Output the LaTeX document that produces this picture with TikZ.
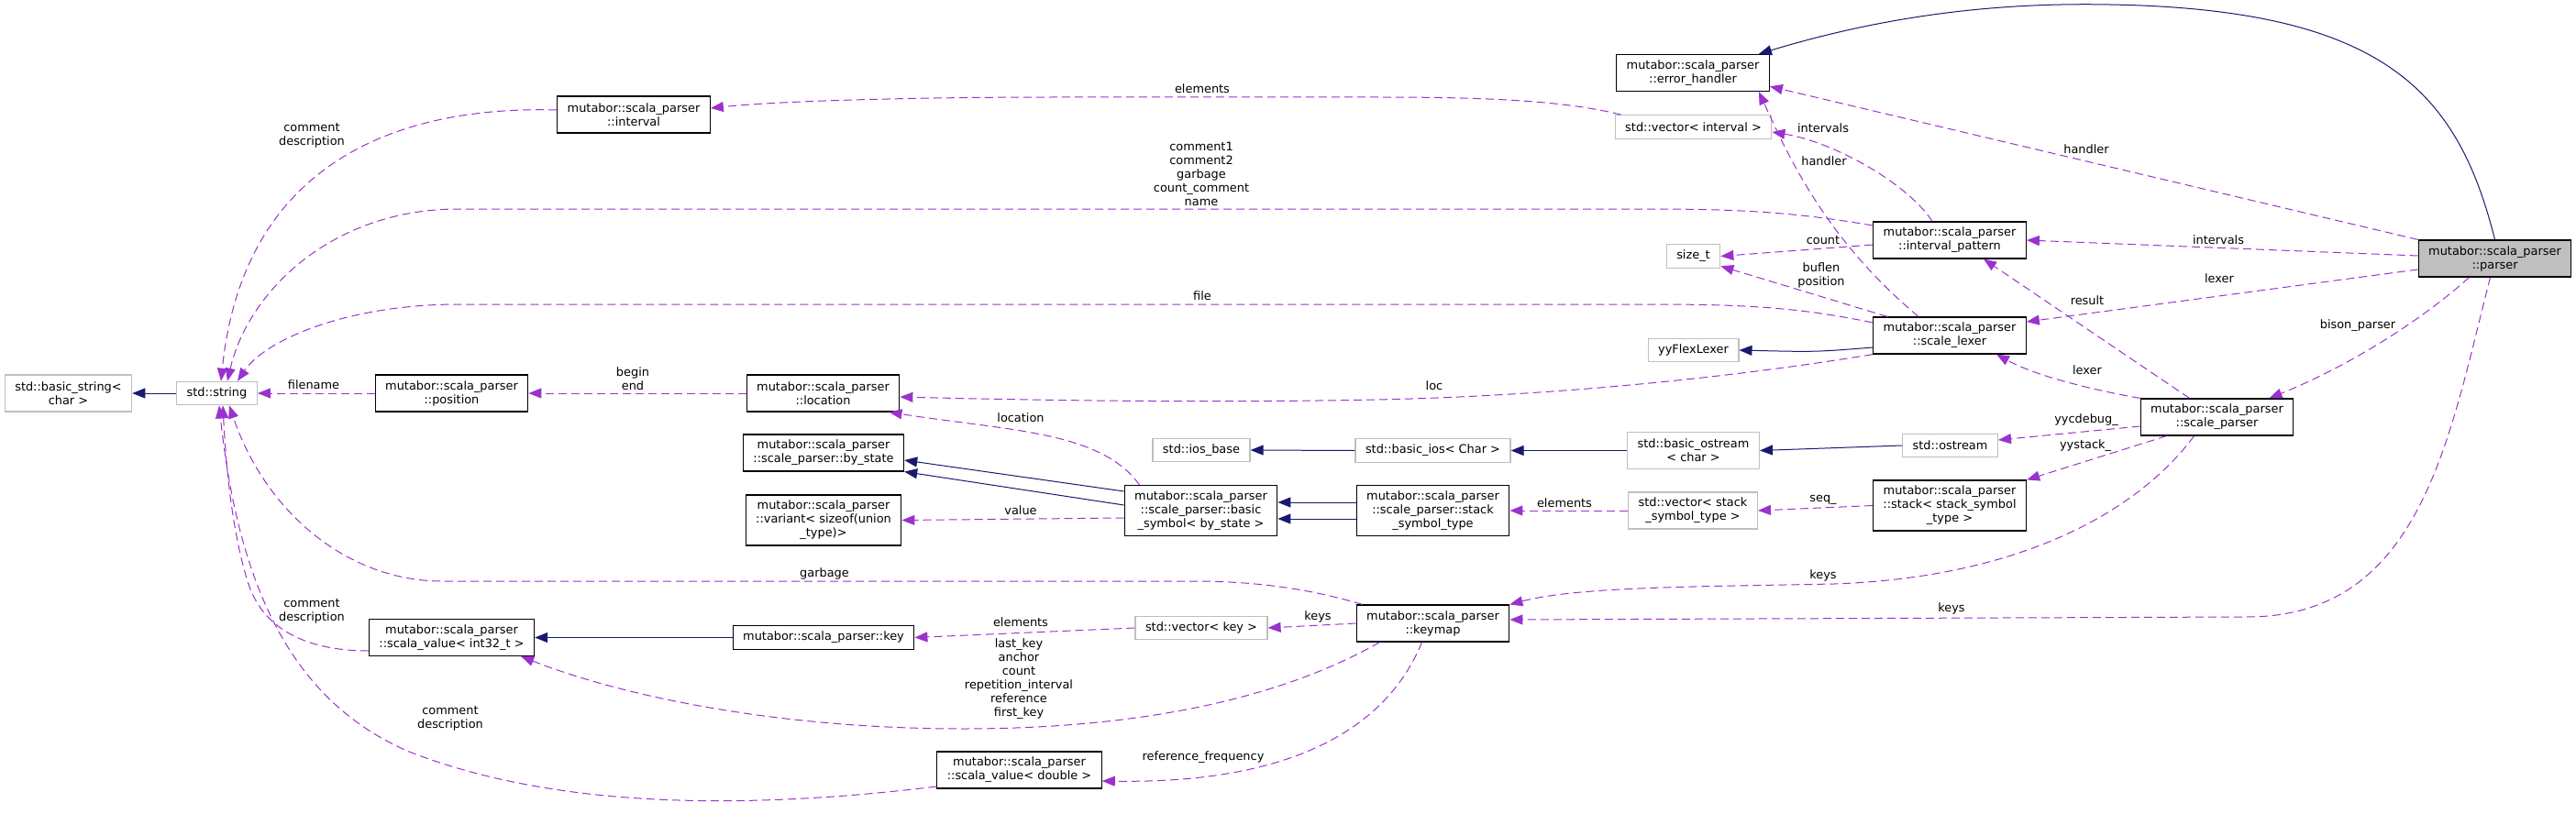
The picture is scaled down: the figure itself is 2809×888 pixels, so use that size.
\documentclass[tikz,border=0pt]{standalone}
\usepackage{fontspec}
\setmainfont{DejaVu Sans}
\usetikzlibrary{arrows.meta}
\definecolor{usecol}{HTML}{9A32CD}
\definecolor{inhcol}{HTML}{191970}
\definecolor{greyline}{HTML}{BFBFBF}
\definecolor{selfill}{HTML}{BFBFBF}
\tikzset{
  box/.style={draw=black, fill=white, line width=1.2pt, align=center,
              font=\fontsize{12.9}{15}\selectfont, inner xsep=11pt, inner ysep=0pt,
              minimum height=25.5pt},
  greybox/.style={box, draw=greyline},
  selbox/.style={box, fill=selfill},
  rows2/.style={minimum height=40pt},
  rows3/.style={minimum height=55pt},
  arinh/.style={-{Triangle[length=14pt, width=11pt]}, line width=1pt, draw=inhcol},
  aruse/.style={-{Triangle[length=14pt, width=11pt]}, line width=1pt, draw=usecol,
                dash pattern=on 9pt off 5pt},
  lbl/.style={font=\fontsize{12.9}{15}\selectfont, align=center, inner sep=0pt}
}

\begin{document}
\begin{tikzpicture}[x=1pt,y=-1pt]
  \useasboundingbox (0,0) rectangle (2809,888);

  % classes, column by column
  \node[greybox, rows2] (basicstr) at (74.5,429) {std::basic\_string<\\char >};
  \node[greybox] (string) at (236.5,429) {std::string};
  \node[box, rows2] (position) at (492.5,429) {mutabor::scala\_parser\\::position};
  \node[box, rows2] (valint) at (492.5,695.5) {mutabor::scala\_parser\\::scala\_value< int32\_t >};
  \node[box, rows2] (interval) at (691,125) {mutabor::scala\_parser\\::interval};
  \node[box, rows2] (location) at (897.5,429) {mutabor::scala\_parser\\::location};
  \node[box, rows2] (bystate) at (898,494) {mutabor::scala\_parser\\::scale\_parser::by\_state};
  \node[box, rows3] (variant) at (898,567.5) {mutabor::scala\_parser\\::variant< sizeof(union\\\_type)>};
  \node[box] (key) at (898,695.5) {mutabor::scala\_parser::key};
  \node[box, rows2] (valdbl) at (1111.5,840) {mutabor::scala\_parser\\::scala\_value< double >};
  \node[greybox] (iosbase) at (1310,491) {std::ios\_base};
  \node[box, rows3] (bsym) at (1309.5,557) {mutabor::scala\_parser\\::scale\_parser::basic\\\_symbol< by\_state >};
  \node[greybox] (veckey) at (1310,685) {std::vector< key >};
  \node[greybox] (basicios) at (1562.5,491.5) {std::basic\_ios< Char >};
  \node[box, rows3] (sst) at (1562.5,557) {mutabor::scala\_parser\\::scale\_parser::stack\\\_symbol\_type};
  \node[box, rows2] (keymap) at (1562.5,680) {mutabor::scala\_parser\\::keymap};
  \node[box, rows2] (errh) at (1846,79.5) {mutabor::scala\_parser\\::error\_handler};
  \node[greybox] (vecint) at (1846.5,138.5) {std::vector< interval >};
  \node[greybox] (sizet) at (1846.5,279.5) {size\_t};
  \node[greybox] (flex) at (1846.5,382) {yyFlexLexer};
  \node[greybox, rows2] (bostream) at (1846.5,491.5) {std::basic\_ostream\\< char >};
  \node[greybox, rows2] (vecsst) at (1846,557) {std::vector< stack\\\_symbol\_type >};
  \node[box, rows2] (ipat) at (2126,262) {mutabor::scala\_parser\\::interval\_pattern};
  \node[box, rows2] (lexer) at (2126,366) {mutabor::scala\_parser\\::scale\_lexer};
  \node[greybox] (ostream) at (2126.5,486) {std::ostream};
  \node[box, rows3] (stack) at (2126,551.5) {mutabor::scala\_parser\\::stack< stack\_symbol\\\_type >};
  \node[box, rows2] (sparser) at (2417.5,455) {mutabor::scala\_parser\\::scale\_parser};
  \node[selbox, rows2] (parser) at (2720.5,282) {mutabor::scala\_parser\\::parser};

  % edge labels
  \node[lbl] (lcd1) at (340,148) {comment\\description};
  \node[lbl] (lcd2) at (340,667) {comment\\description};
  \node[lbl] (lcd3) at (491,784) {comment\\description};
  \node[lbl] (lfilename) at (342,420) {filename};
  \node[lbl] (lbeginend) at (690,413) {begin\\end};
  \node[lbl] (lelem1) at (1311,97) {elements};
  \node[lbl] (lcomm) at (1310,190) {comment1\\comment2\\garbage\\count\_comment\\name};
  \node[lbl] (lfile) at (1311,323) {file};
  \node[lbl] (lloc) at (1564,421) {loc};
  \node[lbl] (llocation) at (1113,456) {location};
  \node[lbl] (lvalue) at (1113,557) {value};
  \node[lbl] (lgarbage) at (899,626) {garbage};
  \node[lbl] (lelem2) at (1113,679) {elements};
  \node[lbl] (lkeys1) at (1437,673) {keys};
  \node[lbl] (llast) at (1111,741) {last\_key\\anchor\\count\\repetition\_interval\\reference\\first\_key};
  \node[lbl] (lreffreq) at (1312,826) {reference\_frequency};
  \node[lbl] (lelem3) at (1706,549) {elements};
  \node[lbl] (lseq) at (1988,545) {seq\_};
  \node[lbl] (lkeys2) at (1988,628) {keys};
  \node[lbl] (lkeys3) at (2128,664) {keys};
  \node[lbl] (lintervals1) at (1988,140) {intervals};
  \node[lbl] (lhandler1) at (1989,176) {handler};
  \node[lbl] (lcount) at (1988,262) {count};
  \node[lbl] (lbuflen) at (1986,300) {buflen\\position};
  \node[lbl] (lhandler2) at (2275,163) {handler};
  \node[lbl] (lintervals2) at (2419,262) {intervals};
  \node[lbl] (llexer1) at (2420,304) {lexer};
  \node[lbl] (lresult) at (2276,328) {result};
  \node[lbl] (lbison) at (2571,355) {bison\_parser};
  \node[lbl] (llexer2) at (2276,404) {lexer};
  \node[lbl] (lyycdebug) at (2275,458) {yycdebug\_};
  \node[lbl] (lyystack) at (2274,486) {yystack\_};

  % inheritance
  \draw[arinh] (string.west) -- (basicstr.east);
  \draw[arinh] (parser.north) .. controls (2680,100) and (2600,10) .. (2300,5)
    .. controls (2150,2) and (2030,25) .. ([xshift=-12pt]errh.north east);
  \draw[arinh] ([yshift=-13pt]lexer.west) .. controls (1980,384) .. (flex.east);
  \draw[arinh] (basicios.west) -- (iosbase.east);
  \draw[arinh] (bostream.west) -- (basicios.east);
  \draw[arinh] (ostream.west) -- (bostream.east);
  \draw[arinh] ([yshift=21pt]bsym.west) -- ([yshift=-8pt]bystate.east);
  \draw[arinh] ([yshift=6pt]bsym.west) -- (bystate.south east);
  \draw[arinh] ([yshift=9pt]sst.west) -- ([yshift=9pt]bsym.east);
  \draw[arinh] ([yshift=-9pt]sst.west) -- ([yshift=-9pt]bsym.east);
  \draw[arinh] (key.west) -- (valint.east);

  % usage: into std::string
  \draw[aruse] ([yshift=5pt]interval.west) .. controls (430,115) and (265,180) .. ([xshift=4.5pt]string.north);
  \draw[aruse] ([yshift=16pt]ipat.west) .. controls (1960,232) and (1900,228) .. (1800,228)
    -- (500,228) .. controls (360,228) and (270,320) .. ([xshift=11.5pt]string.north);
  \draw[aruse] ([yshift=14pt]lexer.west) .. controls (1960,335) and (1900,332) .. (1800,332)
    -- (500,332) .. controls (380,332) and (290,370) .. ([xshift=22.5pt]string.north);
  \draw[aruse] (position.west) -- (string.east);
  \draw[aruse] ([yshift=-18pt]valdbl.west) .. controls (800,885) and (600,880) .. (446,820)
    .. controls (330,770) and (262,660) .. ([xshift=2.5pt]string.south);
  \draw[aruse] ([yshift=-14.5pt]valint.west) .. controls (340,710) and (290,690) .. (272,640)
    .. controls (255,590) and (247,520) .. ([xshift=6.5pt]string.south);
  \draw[aruse] ([xshift=7pt]keymap.north west) .. controls (1420,640) and (1360,634) .. (1300,634)
    -- (482,634) .. controls (380,634) and (290,560) .. ([xshift=13.5pt]string.south);

  % usage: the rest
  \draw[aruse] (location.west) -- (position.east);
  \draw[aruse] ([xshift=7pt]vecint.north west) .. controls (1700,108) and (1600,106) .. (1500,106)
    -- (1150,106) .. controls (1000,106) and (850,110) .. ([yshift=7pt]interval.east);
  \draw[aruse] ([xshift=-19pt]ipat.north) .. controls (2080,200) and (2000,155) .. ([yshift=-5.5pt]vecint.east);
  \draw[aruse] ([xshift=-34pt]lexer.north) .. controls (1990,260) and (1950,170) .. ([xshift=-12pt]errh.south east);
  \draw[aruse] (parser.north west) -- (errh.-10);
  \draw[aruse] ([yshift=3pt]parser.west) -- (ipat.east);
  \draw[aruse] ([yshift=-12pt]parser.west) -- ([yshift=15pt]lexer.east);
  \draw[aruse] ([xshift=-28pt]parser.south) .. controls (2640,350) and (2560,400) .. ([xshift=57pt]sparser.north);
  \draw[aruse] ([xshift=-5pt]parser.south) .. controls (2670,480) and (2640,673) .. (2450,673)
    -- ([yshift=4pt]keymap.east);
  \draw[aruse] ([xshift=-30pt]sparser.north) -- ([xshift=37pt]ipat.south);
  \draw[aruse] (sparser.north west) .. controls (2280,425) and (2220,410) .. ([xshift=51pt]lexer.south);
  \draw[aruse] ([yshift=-10pt]sparser.west) -- ([yshift=6pt]ostream.east);
  \draw[aruse] ([xshift=-55pt]sparser.south) -- (stack.north east);
  \draw[aruse] ([xshift=-25pt]sparser.south) .. controls (2330,560) and (2200,630) .. (2000,637)
    .. controls (1850,640) and (1720,640) .. (keymap.north east);
  \draw[aruse] (stack.west) -- (vecsst.east);
  \draw[aruse] (vecsst.west) -- (sst.east);
  \draw[aruse] ([xshift=-67pt]bsym.north) .. controls (1200,470) and (1100,470) .. ([xshift=72pt]location.south);
  \draw[aruse] ([yshift=-8pt]bsym.west) -- (variant.east);
  \draw[aruse] (lexer.south west) .. controls (1900,410) and (1700,432) .. (1500,436)
    .. controls (1300,440) and (1100,436) .. ([yshift=-4pt]location.east);
  \draw[aruse] ([yshift=-5pt]ipat.west) -- (sizet.east);
  \draw[aruse] ([xshift=-68pt]lexer.north) -- (sizet.-20);
  \draw[aruse] (veckey.west) -- (key.east);
  \draw[aruse] (keymap.west) -- (veckey.east);
  \draw[aruse] ([xshift=-58pt]keymap.south) .. controls (1400,760) and (1250,795) .. (1050,795)
    .. controls (850,795) and (680,760) .. ([xshift=-15pt]valint.south east);
  \draw[aruse] ([xshift=-12pt]keymap.south) .. controls (1510,800) and (1400,855) .. ([yshift=-12pt]valdbl.east);
\end{tikzpicture}
\end{document}
